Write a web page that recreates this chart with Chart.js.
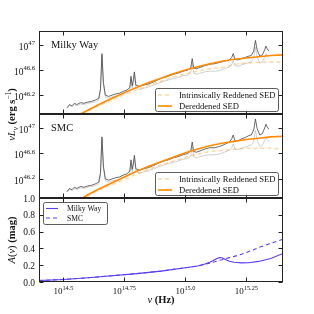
<!DOCTYPE html>
<html>
<head>
<meta charset="utf-8">
<script src="https://cdn.jsdelivr.net/npm/chart.js@4.4.0/dist/chart.umd.min.js"></script>
<style>
  body { margin: 0; background: #fff; }
  #wrap { position: relative; width: 314px; height: 314px; }
  #wrap canvas { position: absolute; left: 0; top: 0; }
</style>
</head>
<body>
<div id="wrap">
  <canvas id="panelMW" width="314" height="314"></canvas>
  <canvas id="panelSMC" width="314" height="314"></canvas>
  <canvas id="panelExt" width="314" height="314"></canvas>
</div>
<script>
var SERIF = '"Liberation Serif", "DejaVu Serif", serif';

// spectrum, log10(nu/Hz) and log10(nu L_nu)
var specNu = [14.515, 14.525, 14.535, 14.545, 14.555, 14.57, 14.585, 14.60, 14.615, 14.63,
  14.645, 14.652, 14.658, 14.664, 14.672, 14.685, 14.70, 14.715, 14.73, 14.745,
  14.76, 14.772, 14.777, 14.782, 14.787, 14.791, 14.797, 14.81, 14.83, 14.85,
  14.87, 14.89, 14.91, 14.93, 14.95, 14.97, 14.99, 15.01, 15.022, 15.028,
  15.034, 15.045, 15.06, 15.08, 15.10, 15.12, 15.14, 15.16, 15.18, 15.19,
  15.196, 15.203, 15.215, 15.23, 15.245, 15.26, 15.27, 15.28, 15.287, 15.294,
  15.305, 15.315, 15.325, 15.33, 15.335, 15.342];
var specObs = [45.99, 46.04, 46.01, 46.05, 46.03, 46.06, 46.05, 46.07, 46.08, 46.09,
  46.12, 46.27, 46.83, 46.37, 46.17, 46.15, 46.17, 46.18, 46.19, 46.22,
  46.24, 46.28, 46.46, 46.31, 46.41, 46.53, 46.32, 46.29, 46.31, 46.33,
  46.36, 46.39, 46.42, 46.44, 46.46, 46.48, 46.51, 46.52, 46.56, 46.70,
  46.55, 46.53, 46.55, 46.57, 46.58, 46.58, 46.59, 46.62, 46.65, 46.69,
  46.75, 46.67, 46.66, 46.68, 46.70, 46.72, 46.73, 46.79, 46.96, 46.81,
  46.71, 46.73, 46.80, 46.86, 46.82, 46.78];
var specMW = [46.00, 46.05, 46.03, 46.07, 46.05, 46.08, 46.07, 46.09, 46.10, 46.12,
  46.15, 46.30, 46.86, 46.40, 46.20, 46.18, 46.20, 46.22, 46.23, 46.26,
  46.28, 46.32, 46.50, 46.35, 46.45, 46.57, 46.36, 46.34, 46.36, 46.38,
  46.41, 46.45, 46.48, 46.50, 46.53, 46.55, 46.58, 46.60, 46.64, 46.78,
  46.63, 46.62, 46.64, 46.67, 46.69, 46.70, 46.72, 46.74, 46.76, 46.80,
  46.86, 46.77, 46.76, 46.78, 46.80, 46.82, 46.83, 46.90, 47.07, 46.92,
  46.82, 46.84, 46.92, 46.98, 46.94, 46.90];
var specSMC = [46.00, 46.05, 46.03, 46.07, 46.05, 46.08, 46.07, 46.09, 46.10, 46.12,
  46.15, 46.30, 46.86, 46.40, 46.20, 46.18, 46.20, 46.22, 46.23, 46.26,
  46.28, 46.32, 46.50, 46.35, 46.45, 46.57, 46.36, 46.34, 46.36, 46.38,
  46.41, 46.45, 46.48, 46.50, 46.53, 46.55, 46.58, 46.60, 46.64, 46.78,
  46.63, 46.62, 46.64, 46.67, 46.69, 46.69, 46.71, 46.74, 46.78, 46.83,
  46.89, 46.80, 46.80, 46.83, 46.85, 46.88, 46.89, 46.97, 47.14, 46.99,
  46.89, 46.91, 47.00, 47.06, 47.02, 46.98];

// SED models
var sedNu = [14.40, 14.45, 14.50, 14.55, 14.60, 14.65, 14.70, 14.75, 14.80, 14.85,
  14.90, 14.95, 15.00, 15.05, 15.10, 15.15, 15.20, 15.25, 15.30, 15.35, 15.40];
var sedMW = [45.55, 45.65, 45.75, 45.86, 45.96, 46.06, 46.15, 46.24, 46.32, 46.40,
  46.47, 46.54, 46.60, 46.65, 46.70, 46.74, 46.77, 46.79, 46.81, 46.83, 46.84];
var sedMWRed = [45.54, 45.64, 45.74, 45.85, 45.94, 46.04, 46.12, 46.21, 46.28, 46.36,
  46.42, 46.49, 46.54, 46.58, 46.62, 46.64, 46.69, 46.71, 46.72, 46.73, 46.72];
var sedSMC = [45.48, 45.59, 45.70, 45.83, 45.95, 46.05, 46.14, 46.23, 46.32, 46.40,
  46.47, 46.54, 46.61, 46.67, 46.72, 46.76, 46.79, 46.82, 46.84, 46.86, 46.87];
var sedSMCRed = [45.47, 45.58, 45.69, 45.81, 45.93, 46.03, 46.11, 46.19, 46.28, 46.35,
  46.42, 46.48, 46.54, 46.59, 46.63, 46.65, 46.67, 46.68, 46.68, 46.68, 46.67];

// extinction curves A(nu) in mag
var extNu = [14.40, 14.50, 14.60, 14.70, 14.80, 14.90, 15.00, 15.05, 15.08, 15.10, 15.12,
  15.13, 15.14, 15.15, 15.16, 15.18, 15.20, 15.23, 15.26, 15.30, 15.35, 15.40];
var extMW = [0.018, 0.03, 0.05, 0.075, 0.10, 0.13, 0.17, 0.19, 0.215, 0.235, 0.265,
  0.28, 0.29, 0.288, 0.275, 0.248, 0.235, 0.228, 0.23, 0.245, 0.28, 0.34];
var extSMC = [0.018, 0.03, 0.05, 0.075, 0.10, 0.13, 0.17, 0.19, 0.21, 0.225, 0.24,
  0.25, 0.26, 0.265, 0.275, 0.29, 0.305, 0.33, 0.362, 0.41, 0.46, 0.51];

var xTicks = [14.5, 14.75, 15.0, 15.25];
var xTickLabels = ['14.5', '14.75', '15.0', '15.25'];
var lumTicks = [46.2, 46.6, 47.0];
var lumTickLabels = ['46.2', '46.6', '47'];
var extTicks = [0, 0.2, 0.4, 0.6, 0.8, 1.0];
var extTickLabels = ['0.0', '0.2', '0.4', '0.6', '0.8', '1.0'];

var ORANGE = '#ff8a00';
var ORANGE_LT = 'rgba(255,140,0,0.35)';
var BLUE = '#5a3cf5';

function pts(xs, ys) {
  return xs.map(function(x, i) { return { x: x, y: ys[i] }; });
}

function line(label, xs, ys, color, width, dash, order) {
  return {
    label: label, data: pts(xs, ys), borderColor: color, borderWidth: width,
    borderDash: dash || [], pointRadius: 0, showLine: true, fill: false,
    tension: 0, order: order
  };
}

function drawPow(ctx, exp, x, y, align, size) {
  var small = size * 0.7;
  ctx.font = size + 'px ' + SERIF;
  var wb = ctx.measureText('10').width;
  ctx.font = small + 'px ' + SERIF;
  var we = ctx.measureText(exp).width;
  var x0 = x;
  if (align === 'right') x0 = x - wb - we;
  if (align === 'center') x0 = x - (wb + we) / 2;
  ctx.textAlign = 'left';
  ctx.textBaseline = 'alphabetic';
  ctx.font = size + 'px ' + SERIF;
  ctx.fillText('10', x0, y);
  ctx.font = small + 'px ' + SERIF;
  ctx.fillText(exp, x0 + wb, y - size * 0.48);
}

function drawRich(ctx, segs, x, y, rot) {
  var total = 0;
  segs.forEach(function(s) {
    ctx.font = s.f + ' ' + SERIF;
    s.w = ctx.measureText(s.t).width;
    total += s.w;
  });
  ctx.save();
  ctx.translate(x, y);
  ctx.rotate(rot);
  ctx.textAlign = 'left';
  ctx.textBaseline = 'alphabetic';
  var cx = -total / 2;
  segs.forEach(function(s) {
    ctx.font = s.f + ' ' + SERIF;
    ctx.fillText(s.t, cx, s.dy || 0);
    cx += s.w;
  });
  ctx.restore();
}

function roundBox(ctx, x, y, w, h, r) {
  ctx.beginPath();
  ctx.moveTo(x + r, y);
  ctx.lineTo(x + w - r, y);
  ctx.quadraticCurveTo(x + w, y, x + w, y + r);
  ctx.lineTo(x + w, y + h - r);
  ctx.quadraticCurveTo(x + w, y + h, x + w - r, y + h);
  ctx.lineTo(x + r, y + h);
  ctx.quadraticCurveTo(x, y + h, x, y + h - r);
  ctx.lineTo(x, y + r);
  ctx.quadraticCurveTo(x, y, x + r, y);
  ctx.closePath();
}

// frame, inward ticks, tick labels, legend and titles
var decor = {
  id: 'decor',
  afterDatasetsDraw: function(chart, args, o) {
    var ctx = chart.ctx, a = chart.chartArea;
    var xs = chart.scales.x, ys = chart.scales.y;
    var L = Math.round(a.left) + 0.5, R = Math.round(a.right) - 0.5;
    var T = Math.round(a.top) + 0.5, B = Math.round(a.bottom) - 0.5;
    ctx.save();
    ctx.strokeStyle = '#222';
    ctx.lineWidth = 1;
    ctx.strokeRect(L, T, R - L, B - T);
    ctx.beginPath();
    xTicks.forEach(function(v) {
      var px = Math.round(xs.getPixelForValue(v)) + 0.5;
      ctx.moveTo(px, B); ctx.lineTo(px, B - 4);
      ctx.moveTo(px, T); ctx.lineTo(px, T + 4);
    });
    o.yTicks.forEach(function(v) {
      var py = Math.round(ys.getPixelForValue(v)) + 0.5;
      ctx.moveTo(L, py); ctx.lineTo(L + 4, py);
      ctx.moveTo(R, py); ctx.lineTo(R - 4, py);
    });
    ctx.stroke();

    ctx.fillStyle = '#111';
    o.yTicks.forEach(function(v, i) {
      var py = ys.getPixelForValue(v);
      if (o.pow) {
        drawPow(ctx, o.yLabels[i], a.left - 4, py + 5, 'right', 9.5);
      } else {
        ctx.font = '9.5px ' + SERIF;
        ctx.textAlign = 'right';
        ctx.textBaseline = 'alphabetic';
        ctx.fillText(o.yLabels[i], a.left - 4, py + 3.5);
      }
    });
    if (o.xLabels) {
      xTicks.forEach(function(v, i) {
        drawPow(ctx, xTickLabels[i], xs.getPixelForValue(v), a.bottom + 12, 'center', 9);
      });
    }

    if (o.title) {
      ctx.font = '10.5px ' + SERIF;
      ctx.textAlign = 'left';
      ctx.textBaseline = 'alphabetic';
      ctx.fillText(o.title, a.left + 12, a.top + 16.5);
    }

    if (o.legend) {
      var lg = o.legend;
      roundBox(ctx, lg.x + 0.5, lg.y + 0.5, lg.w, lg.h, 2);
      ctx.fillStyle = 'rgba(255,255,255,0.85)';
      ctx.fill();
      ctx.strokeStyle = '#333';
      ctx.lineWidth = 0.8;
      ctx.stroke();
      lg.items.forEach(function(it, i) {
        var ry = lg.y + lg.first + i * lg.rowH;
        ctx.strokeStyle = it.color;
        ctx.lineWidth = it.width;
        ctx.setLineDash(it.dash);
        ctx.beginPath();
        ctx.moveTo(lg.x + 3, ry);
        ctx.lineTo(lg.x + lg.sample, ry);
        ctx.stroke();
        ctx.setLineDash([]);
        ctx.fillStyle = '#111';
        ctx.font = lg.font + 'px ' + SERIF;
        ctx.textAlign = 'left';
        ctx.textBaseline = 'middle';
        ctx.fillText(it.label, lg.x + lg.textX, ry + 0.5);
      });
    }

    ctx.fillStyle = '#111';
    if (o.yTitle) drawRich(ctx, o.yTitle, 15, o.yTitleY, -Math.PI / 2);
    if (o.xTitle) drawRich(ctx, o.xTitle, (a.left + a.right) / 2, 303, 0);
    ctx.restore();
  }
};

function makePanel(id, datasets, yMin, yMax, pad, opts) {
  return new Chart(document.getElementById(id), {
    type: 'scatter',
    data: { datasets: datasets },
    options: {
      responsive: false,
      animation: false,
      devicePixelRatio: 1,
      layout: { padding: pad },
      scales: {
        x: { type: 'linear', min: 14.4, max: 15.4, display: false },
        y: { type: 'linear', min: yMin, max: yMax, display: false }
      },
      plugins: { legend: { display: false }, tooltip: { enabled: false }, decor: opts }
    },
    plugins: [decor]
  });
}

var sedLegend = function(y) {
  return {
    x: 155, y: y, w: 123, h: 23, first: 7, rowH: 11, sample: 17, textX: 24, font: 8.6,
    items: [
      { label: 'Intrinsically Reddened SED', color: ORANGE_LT, width: 1.5, dash: [4, 3] },
      { label: 'Dereddened SED', color: ORANGE, width: 1.6, dash: [] }
    ]
  };
};

var lumTitle = [
  { t: '\u03bd', f: 'italic 10.5px' },
  { t: 'L', f: 'italic 10.5px' },
  { t: '\u03bd', f: 'italic 7.5px', dy: 2.5 },
  { t: ' (erg s', f: 'bold 10.5px' },
  { t: '\u22121', f: '7.5px', dy: -4.5 },
  { t: ')', f: 'bold 10.5px' }
];

makePanel('panelMW', [
  line('Observed', specNu, specObs, '#c4c4c4', 0.8, [], 4),
  line('Dereddened spectrum', specNu, specMW, '#444', 0.8, [], 3),
  line('Intrinsically Reddened SED', sedNu, sedMWRed, ORANGE_LT, 1.5, [4, 3], 2),
  line('Dereddened SED', sedNu, sedMW, ORANGE, 1.6, [], 1)
], 45.9, 47.22, { left: 39, right: 31, top: 31, bottom: 200 }, {
  yTicks: lumTicks, yLabels: lumTickLabels, pow: true, title: 'Milky Way',
  legend: sedLegend(88), yTitle: lumTitle, yTitleY: 114.5
});

makePanel('panelSMC', [
  line('Observed', specNu, specObs, '#c4c4c4', 0.8, [], 4),
  line('Dereddened spectrum', specNu, specSMC, '#444', 0.8, [], 3),
  line('Intrinsically Reddened SED', sedNu, sedSMCRed, ORANGE_LT, 1.5, [4, 3], 2),
  line('Dereddened SED', sedNu, sedSMC, ORANGE, 1.6, [], 1)
], 45.9, 47.22, { left: 39, right: 31, top: 114, bottom: 116 }, {
  yTicks: lumTicks, yLabels: lumTickLabels, pow: true, title: 'SMC',
  legend: sedLegend(172)
});

makePanel('panelExt', [
  line('Milky Way', extNu, extMW, BLUE, 1.1, [], 1),
  line('SMC', extNu, extSMC, BLUE, 1.1, [4, 3], 2)
], 0, 1.0, { left: 39, right: 31, top: 198, bottom: 32 }, {
  yTicks: extTicks, yLabels: extTickLabels, pow: false, xLabels: true,
  legend: {
    x: 43, y: 202, w: 64, h: 22, first: 6.5, rowH: 9.5, sample: 15, textX: 24, font: 7.6,
    items: [
      { label: 'Milky Way', color: BLUE, width: 1.1, dash: [] },
      { label: 'SMC', color: BLUE, width: 1.1, dash: [4, 3] }
    ]
  },
  yTitle: [
    { t: 'A', f: 'italic 10.5px' },
    { t: '(', f: '10.5px' },
    { t: '\u03bd', f: 'italic 10.5px' },
    { t: ')', f: '10.5px' },
    { t: ' (mag)', f: 'bold 10.5px' }
  ],
  yTitleY: 240,
  xTitle: [
    { t: '\u03bd', f: 'italic 10.5px' },
    { t: ' (Hz)', f: 'bold 10.5px' }
  ]
});
</script>
</body>
</html>
